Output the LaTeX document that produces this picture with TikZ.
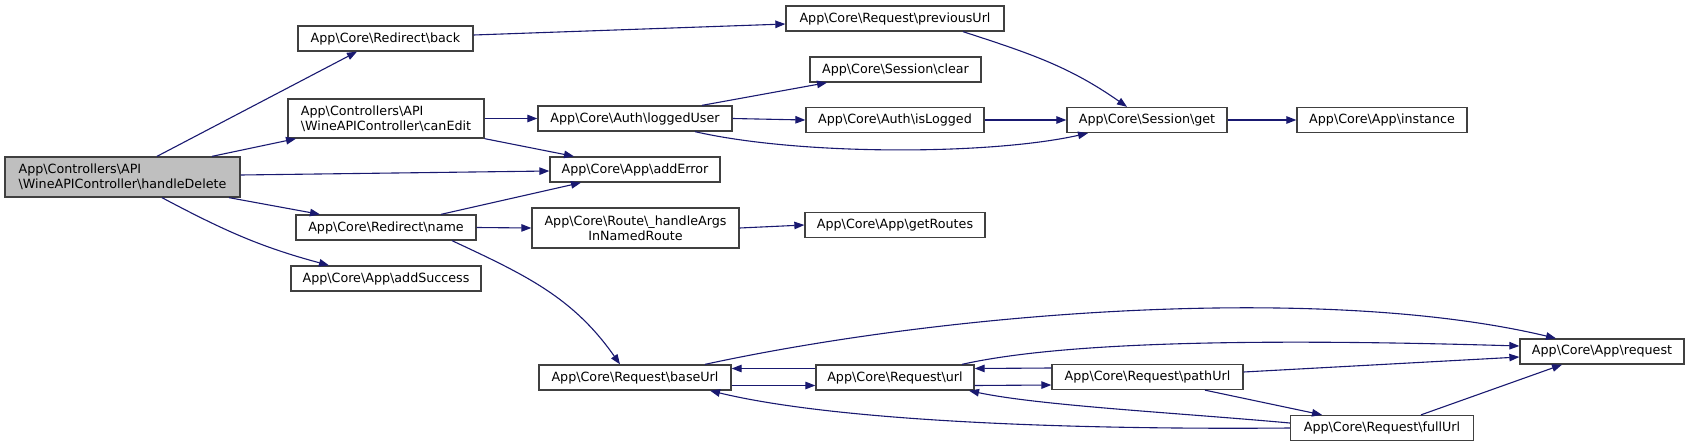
\documentclass[tikz,border=0pt]{standalone}
\usepackage{fontspec}
\setmainfont{DejaVu Sans}
\usepackage{tikz}
\usetikzlibrary{arrows.meta}
\definecolor{midnight}{HTML}{191970}
\newcommand{\ns}{\textbackslash}

\begin{document}
\begin{tikzpicture}[x=1pt,y=1pt,>={Triangle[length=10pt,width=7.5pt]},
  font=\fontsize{12.7}{15}\selectfont,
  box/.style={draw=black!75,line width=1.3pt,fill=white,minimum height=25pt,inner sep=0pt,align=center},
  call/.style={->,draw=midnight,line width=1.1pt}]
  \useasboundingbox (0,0) rectangle (1689,-447);
  \node[box,fill=black!25,minimum width=235pt,minimum height=40pt,align=left] (handledelete) at (122.5,-177) {App\ns Controllers\ns API\\\ns WineAPIController\ns handleDelete};
  \node[box,minimum width=175pt] (back) at (385.5,-38.5) {App\ns Core\ns Redirect\ns back};
  \node[box,minimum width=196pt,minimum height=39pt,align=left] (canedit) at (386,-118.5) {App\ns Controllers\ns API\\\ns WineAPIController\ns canEdit};
  \node[box,minimum width=180pt] (name) at (386,-227.5) {App\ns Core\ns Redirect\ns name};
  \node[box,minimum width=190pt] (addsuccess) at (386,-278.5) {App\ns Core\ns App\ns addSuccess};
  \node[box,minimum width=218pt] (previousurl) at (895,-18.5) {App\ns Core\ns Request\ns previousUrl};
  \node[box,minimum width=171pt] (clear) at (895.5,-69.5) {App\ns Core\ns Session\ns clear};
  \node[box,minimum width=194pt] (loggeduser) at (635,-118.5) {App\ns Core\ns Auth\ns loggedUser};
  \node[box,minimum width=178pt] (islogged) at (895,-120) {App\ns Core\ns Auth\ns isLogged};
  \node[box,minimum width=170pt] (adderror) at (635,-169.5) {App\ns Core\ns App\ns addError};
  \node[box,minimum width=207pt,minimum height=40pt] (handleargs) at (635.5,-228) {App\ns Core\ns Route\ns\_handleArgs\\InNamedRoute};
  \node[box,minimum width=180pt] (getroutes) at (895,-225) {App\ns Core\ns App\ns getRoutes};
  \node[box,minimum width=160pt] (sessionget) at (1147,-120) {App\ns Core\ns Session\ns get};
  \node[box,minimum width=170pt] (instance) at (1382,-120) {App\ns Core\ns App\ns instance};
  \node[box,minimum width=192pt] (baseurl) at (635,-377.5) {App\ns Core\ns Request\ns baseUrl};
  \node[box,minimum width=158pt] (url) at (895,-377.5) {App\ns Core\ns Request\ns url};
  \node[box,minimum width=191pt] (pathurl) at (1147.5,-377) {App\ns Core\ns Request\ns pathUrl};
  \node[box,minimum width=183pt] (fullurl) at (1382,-428) {App\ns Core\ns Request\ns fullUrl};
  \node[box,minimum width=164pt] (request) at (1602,-351.5) {App\ns Core\ns App\ns request};
  % calls from handleDelete
  \draw[call] ([xshift=34.5pt]handledelete.north) -- ([xshift=-28.5pt]back.south);
  \draw[call] ([xshift=89.5pt]handledelete.north) -- ([xshift=-90pt]canedit.south);
  \draw[call] ([yshift=2pt]handledelete.east) -- ([yshift=-1.5pt]adderror.west);
  \draw[call] ([xshift=106.5pt]handledelete.south) -- ([xshift=-66pt]name.north);
  \draw[call] ([xshift=39.5pt]handledelete.south) to[out=-28,in=165] ([xshift=-57pt]addsuccess.north);
  \draw[call] ([yshift=3.5pt]back.east) -- ([yshift=-5.5pt]previousurl.west);
  \draw[call] (canedit.east) -- (loggeduser.west);
  \draw[call] (canedit.south east) -- ([xshift=-61pt]adderror.north);
  \draw[call] ([xshift=55pt]name.north) -- ([xshift=-54pt]adderror.south);
  \draw[call] (name.east) -- (handleargs.west);
  \draw[call] ([xshift=66pt]name.south) to[out=-25,in=125] ([xshift=-15pt]baseurl.north);
  \draw[call] ([xshift=67pt]loggeduser.north) -- ([xshift=-68.5pt]clear.south);
  \draw[call] (loggeduser.east) -- (islogged.west);
  \draw[call] ([xshift=60pt]loggeduser.south) .. controls +(105,-24) and +(-98,-22) .. ([xshift=-59pt]sessionget.south);
  \draw[call] (islogged.east) -- (sessionget.west);
  \draw[call] ([xshift=68pt]previousurl.south) to[out=-18,in=145] ([xshift=-20pt]sessionget.north);
  \draw[call] (sessionget.east) -- (instance.west);
  \draw[call] (handleargs.east) -- (getroutes.west);
  % request chain
  \draw[call] ([xshift=70pt]baseurl.north) .. controls +(255,55) and +(-226,54) .. ([xshift=-46pt]request.north);
  \draw[call] ([yshift=-8pt]baseurl.east) -- ([yshift=-8pt]url.west);
  \draw[call] ([yshift=9pt]url.west) -- ([yshift=9pt]baseurl.east);
  \draw[call] ([xshift=67pt]url.north) .. controls +(98,22) and +(-270,8) .. ([yshift=5.5pt]request.west);
  \draw[call] ([yshift=-8pt]url.east) -- ([yshift=-8pt]pathurl.west);
  \draw[call] ([yshift=9pt]pathurl.west) -- ([yshift=9pt]url.east);
  \draw[call] ([yshift=5pt]pathurl.east) -- ([yshift=-5.5pt]request.west);
  \draw[call] ([xshift=57.5pt]pathurl.south) -- ([xshift=-60pt]fullurl.north);
  \draw[call] ([yshift=5pt]fullurl.west) .. controls +(-110,10) and +(71,-15) .. ([xshift=74pt]url.south);
  \draw[call] (fullurl.west) .. controls +(-240,-2) and +(120,-29) .. ([xshift=75pt]baseurl.south);
  \draw[call] ([xshift=39pt]fullurl.north) -- ([xshift=-40pt]request.south);
\end{tikzpicture}
\end{document}
